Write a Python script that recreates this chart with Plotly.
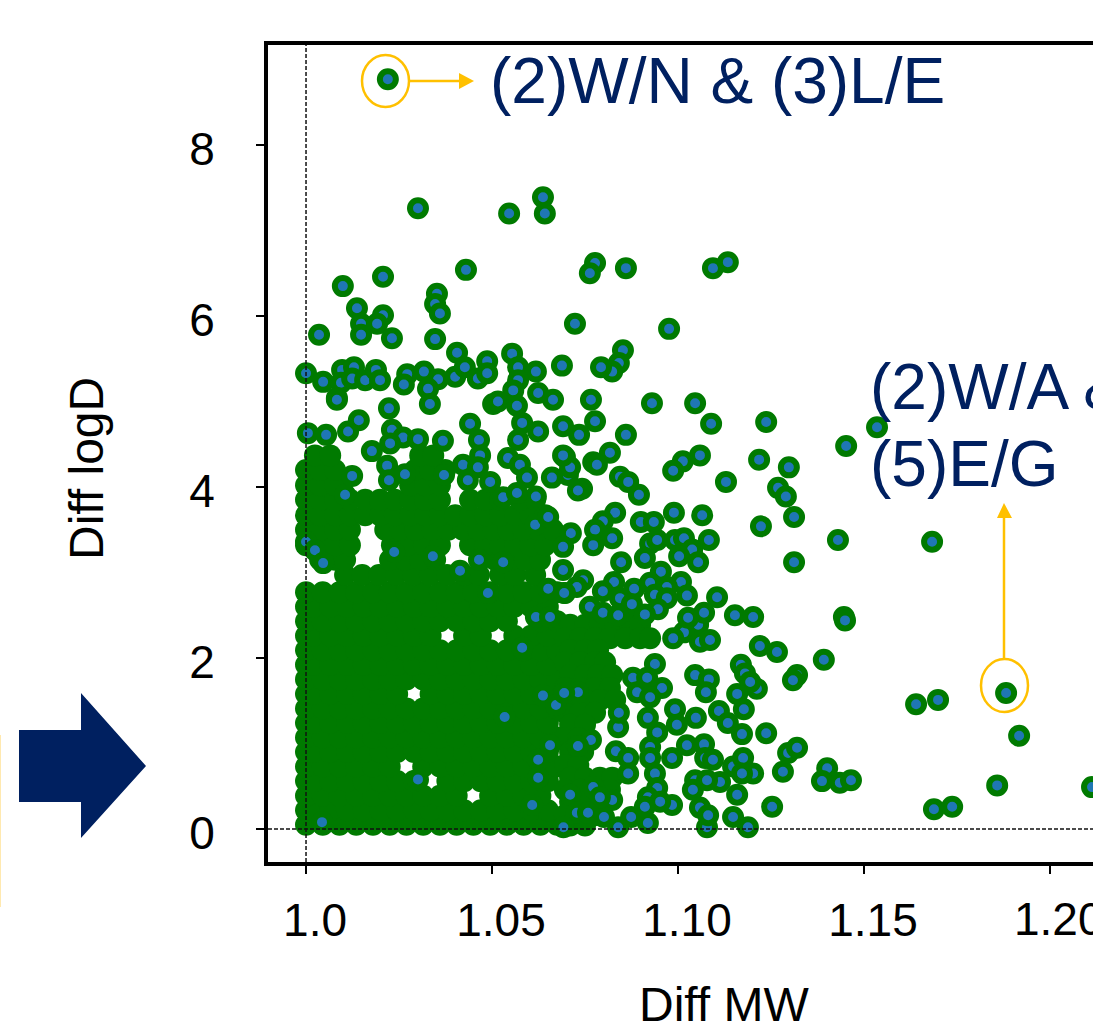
import plotly.graph_objects as go

# ---------- data ----------
tick_x = [1.0, 1.05, 1.10, 1.15, 1.20]
tick_x_text = ["1.0", "1.05", "1.10", "1.15", "1.20"]
tick_y = [0, 2, 4, 6, 8]

# Overplotted core of the cloud, where individual centres are hidden (y level, x values)
core_levels = [
 (0.05,[1.000,1.0045,1.009,1.0135,1.018,1.0225,1.027,1.0315,1.036,1.0405,1.045,1.0495,1.054,1.0585,1.063,1.0675]),
 (0.22,[1.000,1.002,1.0065,1.011,1.0155,1.020,1.0245,1.029,1.0335,1.038,1.0425,1.047,1.0515,1.056,1.0605,1.065]),
 (0.39,[1.000,1.0045,1.009,1.0135,1.018,1.0225,1.027,1.0315,1.036,1.0405,1.0495,1.054,1.0585,1.063]),
 (0.56,[1.000,1.002,1.0065,1.011,1.0155,1.020,1.0245,1.029,1.038,1.0425,1.047,1.0515,1.056,1.0605,1.065]),
 (0.73,[1.000,1.0045,1.009,1.0135,1.018,1.0225,1.0315,1.036,1.0405,1.045,1.0495,1.054,1.0585,1.063,1.0675]),
 (0.90,[1.000,1.002,1.0065,1.011,1.0155,1.020,1.0245,1.029,1.0335,1.038,1.0425,1.047,1.0515,1.056,1.0605,1.065]),
 (1.07,[1.000,1.0045,1.009,1.0135,1.018,1.0225,1.027,1.0315,1.036,1.0405,1.045,1.0495,1.054,1.0585,1.063,1.0675]),
 (1.24,[1.000,1.002,1.0065,1.011,1.0155,1.020,1.0245,1.029,1.0335,1.038,1.0425,1.047,1.0515,1.056,1.0605,1.065]),
 (1.41,[1.000,1.0045,1.009,1.0135,1.018,1.0225,1.027,1.0315,1.036,1.0405,1.045,1.0495,1.054,1.0585,1.063,1.0675]),
 (1.58,[1.000,1.002,1.0065,1.011,1.0155,1.020,1.0245,1.0335,1.038,1.0425,1.047,1.0515,1.056,1.0605,1.065]),
 (1.75,[1.000,1.0045,1.009,1.0135,1.018,1.0225,1.027,1.0315,1.036,1.0405,1.045,1.0495,1.054,1.0585,1.063,1.0675]),
 (1.92,[1.000,1.002,1.0065,1.011,1.0155,1.020,1.0245,1.029,1.0335,1.038,1.0425,1.047,1.0515,1.056,1.0605,1.065]),
 (2.09,[1.000,1.0045,1.009,1.0135,1.018,1.0225,1.027,1.0315,1.036,1.0405,1.045,1.0495,1.054,1.0585,1.063,1.0675]),
 (2.26,[1.000,1.002,1.0065,1.011,1.0155,1.020,1.0245,1.029,1.0335,1.0425,1.047,1.056,1.0605,1.065]),
 (2.43,[1.000,1.0045,1.009,1.0135,1.018,1.0225,1.027,1.0315,1.036,1.0405,1.045,1.0495,1.054,1.063,1.0675]),
 (2.60,[1.000,1.002,1.0065,1.011,1.0155,1.020,1.0245,1.029,1.0335,1.038,1.0425,1.047,1.0515,1.056,1.0605,1.065]),
 (2.77,[1.000,1.0045,1.009,1.0135,1.018,1.0225,1.027,1.0315,1.036,1.0405,1.045,1.0495,1.054,1.0585,1.063,1.0675]),
 (2.97,[1.0105,1.0151,1.0196,1.0242,1.0288,1.0333,1.0379,1.0425,1.0465,1.0522,1.0562,1.0616]),
 (3.15,[1.0038,1.0078,1.0105,1.0226,1.0266,1.0307,1.0347,1.0468,1.0508,1.0549,1.0589,1.0629]),
 (3.32,[1.000,1.0038,1.0078,1.0118,1.0231,1.0274,1.0317,1.036,1.0441,1.0482,1.0522,1.0562,1.0603,1.0643]),
 (3.50,[1.000,1.0038,1.0078,1.0118,1.0213,1.0253,1.0293,1.0339,1.0382,1.0422,1.0463,1.0503,1.0543,1.0584,1.0624,1.0664]),
 (3.67,[1.000,1.0038,1.0078,1.0118,1.0159,1.0199,1.0239,1.028,1.032,1.036,1.0401,1.0441,1.0482,1.0522,1.0562,1.0603,1.0643]),
 (3.85,[1.000,1.0038,1.0078,1.0118,1.0159,1.0199,1.0239,1.028,1.032,1.036,1.0441,1.0482,1.0522,1.0576,1.0616]),
 (4.02,[1.000,1.0038,1.0078,1.028,1.032,1.036]),
 (4.20,[1.000,1.0038,1.0078,1.0293,1.0334,1.0374]),
 (4.37,[1.0024,1.0065,1.0307,1.0342]),
]
edge_levels = [
 (2.39,[1.0710,1.0750,1.0790,1.0831,1.0872,1.0898]),
 (2.23,[1.0696,1.0737,1.0777,1.0817,1.0858,1.0898,1.0925]),
 (2.09,[1.0710,1.0750,1.0785]),
 (1.95,[1.0696,1.0737,1.0777,1.0804]),
 (1.80,[1.0710,1.0750,1.0785,1.0823]),
 (1.65,[1.0696,1.0737,1.0777,1.0817]),
 (1.51,[1.0710,1.0750,1.0790,1.0831]),
 (1.36,[1.0696,1.0737,1.0777]),
 (1.22,[1.0710,1.0750]),
 (1.06,[1.0696,1.0732]),
 (0.90,[1.0710,1.0745]),
 (0.75,[1.0696,1.0732]),
 (0.60,[1.0710,1.0750,1.0790,1.0823]),
 (0.46,[1.0696,1.0737,1.0777,1.0817]),
 (0.32,[1.0710,1.0750,1.0790]),
 (0.16,[1.0696,1.0737,1.0777]),
 (0.04,[1.0710,1.0750]),
]

# Individually visible points (x, y)
outlier = [(1.0220,8.77)]
upper_points = [
 (1.0301,7.26),(1.0546,7.20),(1.0637,7.39),(1.0642,7.20),(1.0430,6.54),(1.0207,6.46),(1.0099,6.35),
 (1.0137,6.09),(1.0352,6.26),(1.0347,6.14),(1.0360,6.03),(1.0207,6.01),(1.0148,5.91),(1.0191,5.91),
 (1.0148,5.78),(1.0035,5.78),(1.0231,5.74),(1.0347,5.73),(1.0723,5.91),(1.0000,5.33),(1.0046,5.23),
 (1.0097,5.37),(1.0129,5.40),(1.0094,5.22),(1.0124,5.27),(1.0159,5.25),(1.0188,5.37),(1.0199,5.25),
 (1.0272,5.32),(1.0263,5.20),(1.0317,5.35),(1.0355,5.26),(1.0328,5.15),(1.0401,5.29),(1.0406,5.57),
 (1.0427,5.40),(1.0487,5.47),(1.0462,5.27),(1.0487,5.33),(1.0554,5.56),(1.0570,5.40),(1.0618,5.35),
 (1.0688,5.42),(1.0570,5.25),(1.0557,5.13),(1.0624,5.10),(1.0664,5.02),(1.0083,5.04),(1.0223,4.92),
 (1.0083,5.02),(1.0333,4.97),(1.0503,4.97),(1.0516,5.00),(1.0567,4.95),
 (1.0777,6.62),(1.0763,6.50),(1.0860,6.56),(1.1094,6.56),(1.1134,6.63),(1.0976,5.85),(1.0852,5.60),
 (1.0841,5.45),(1.0823,5.35),(1.0793,5.40),(1.0766,5.02),(1.0930,4.98),(1.1046,4.98),
 (1.0005,4.63),(1.0054,4.61),(1.0113,4.65),(1.0142,4.78),(1.0177,4.42),(1.0231,4.67),(1.0261,4.58),
 (1.0301,4.56),(1.0226,4.51),(1.0368,4.54),(1.0441,4.74),(1.0465,4.55),(1.0468,4.37),(1.0218,4.25),
 (1.0223,4.08),(1.0266,4.15),(1.0124,4.13),(1.0422,4.26),(1.0462,4.23),(1.0435,4.08),(1.0495,4.06),
 (1.0371,4.14),(1.0581,4.75),(1.0624,4.65),(1.0570,4.55),(1.0543,4.34),(1.0575,4.26),(1.0594,4.11),
 (1.0530,3.88),(1.0618,3.89),(1.0661,4.11),(1.0691,4.37),(1.0731,3.96),(1.0567,3.93),
]
mid_points = [
 (1.1089,4.74),(1.1237,4.76),(1.1452,4.48),(1.0777,4.77),(1.0691,4.71),(1.0734,4.61),(1.0860,4.61),
 (1.0817,4.40),(1.0772,4.29),(1.0782,4.26),(1.1059,4.37),(1.1013,4.30),(1.0987,4.19),(1.1218,4.32),
 (1.1298,4.23),(1.1129,4.06),(1.1269,3.99),(1.1290,3.89),(1.0844,4.12),(1.0866,4.06),(1.0895,3.91),
 (1.0742,3.98),(1.0704,4.14),(1.0696,4.35),(1.0710,4.23),(1.1312,3.65),(1.1223,3.54),(1.1430,3.38),
 (1.1312,3.12),(1.0989,3.70),(1.1065,3.67),(1.0831,3.70),(1.0798,3.60),(1.0777,3.50),(1.0900,3.59),
 (1.0935,3.59),(1.0712,3.46),(1.0823,3.40),(1.0772,3.32),(1.0691,3.30),(1.0925,3.34),(1.0944,3.38),
 (1.0992,3.38),(1.1016,3.40),(1.1083,3.38),(1.1038,3.27),(1.1003,3.19),(1.1054,3.12),(1.0911,3.17),
 (1.0847,3.12),(1.0691,3.03),(1.0745,2.91),(1.0728,2.83),(1.0954,3.01),(1.0828,2.89),(1.0925,2.88),
 (1.1008,2.89),(1.0970,2.83),(1.0798,2.78),(1.0882,2.81),(1.0938,2.74),(1.1024,2.73),(1.0844,2.70),
 (1.1105,2.71),(1.0696,2.76),(1.0970,2.70),(1.0763,2.60),(1.0876,2.63),(1.0946,2.57),(1.0911,2.51),
 (1.1070,2.53),(1.1027,2.47),(1.1153,2.50),(1.1202,2.48),(1.1446,2.48),(1.1449,2.44),(1.0798,2.53),
 (1.0839,2.50),(1.0616,3.56),(1.0651,3.65),(1.0341,3.19),(1.0237,3.24),(1.0530,3.12),(1.0465,3.15),
 (1.0414,3.02),(1.0651,2.81),(1.0694,2.76),(1.0489,2.76),(1.0000,3.36),(1.0024,3.26),(1.0046,3.11),
 (1.0105,3.91),
]
lower_points = [
 (1.1054,2.39),(1.1016,2.30),(1.0987,2.23),(1.1059,2.19),(1.1086,2.21),(1.1220,2.14),(1.1266,2.07),
 (1.1392,1.98),(1.1320,1.80),(1.1309,1.74),(1.1169,1.92),(1.1180,1.82),(1.1046,1.80),(1.1083,1.75),
 (1.1075,1.60),(1.1212,1.64),(1.1194,1.72),(1.1159,1.58),(1.1177,1.40),(1.1110,1.38),(1.1134,1.24),
 (1.1172,1.11),(1.1237,1.12),(1.1048,1.30),(1.0992,1.40),(1.0997,1.22),(1.0938,1.93),(1.0944,1.13),
 (1.0919,1.30),(1.0879,1.77),(1.0890,1.60),(1.0957,1.65),(1.0917,1.77),(1.0925,1.54),(1.0839,1.19),
 (1.0841,1.36),(1.0766,1.04),(1.0728,0.97),(1.0833,0.91),(1.0866,0.83),(1.0866,0.65),(1.0925,0.96),
 (1.0925,0.83),(1.0984,0.83),(1.1024,0.98),(1.1070,0.99),(1.1073,0.83),(1.1094,0.81),(1.0938,0.65),
 (1.1046,0.57),(1.1040,0.46),(1.1113,0.55),(1.1078,0.57),(1.1159,0.40),(1.1148,0.73),(1.1175,0.83),
 (1.1202,0.65),(1.1172,0.65),(1.1282,0.67),(1.1296,0.89),(1.1320,0.95),(1.1401,0.71),(1.1387,0.56),
 (1.1435,0.54),(1.1465,0.57),(1.1253,0.26),(1.1148,0.14),(1.1188,0.02),(1.1078,0.02),(1.1059,0.25),
 (1.1081,0.16),(1.0919,0.07),(1.0839,0.02),(1.0874,0.14),(1.0984,0.28),(1.0944,0.48),(1.0919,0.37),
 (1.0911,0.26),(1.0952,0.32),(1.0823,0.34),(1.0801,0.14),(1.0772,0.49),(1.0790,0.37),(1.0710,0.40),
 (1.0728,0.19),(1.0758,0.19),(1.0692,0.02),
 (1.0618,2.48),(1.0656,2.48),(1.0581,2.12),(1.0637,1.56),(1.0672,1.45),(1.0731,1.60),(1.0694,1.59),
 (1.0534,1.31),(1.0731,0.97),(1.0656,0.98),(1.0624,0.81),(1.0608,0.28),(1.0624,0.60),(1.0301,0.58),
 (1.0043,0.08),
]
far_points = [
 (1.1535,4.70),(1.1683,3.36),(1.1882,1.59),(1.1699,1.51),(1.1640,1.46),(1.1917,1.09),(1.1858,0.51),
 (1.2113,0.49),(1.1688,0.23),(1.1737,0.26),
]

# ---------- page geometry helpers ----------
W, H = 1093, 1026
L, R, T, B = 268, 1093, 45, 862
def fx(p): return (p - L) / (R - L)
def fy(p): return (B - p) / (B - T)

core_x = [x for _, xs in core_levels + edge_levels for x in xs]
core_y = [y for y, xs in core_levels + edge_levels for _ in xs]
visible = lower_points + mid_points + upper_points + far_points + outlier
vis_x = [p[0] for p in visible]
vis_y = [p[1] for p in visible]

GREEN = "#007a00"; BLUE = "#1f77b4"; NAVY = "#002060"; GOLD = "#FFC000"
FONT = "Liberation Sans"

fig = go.Figure()
fig.add_trace(go.Scatter(x=core_x, y=core_y, mode="markers", hoverinfo="skip",
                         marker=dict(size=22, color=GREEN, line=dict(width=0))))
fig.add_trace(go.Scatter(x=vis_x, y=vis_y, mode="markers",
                         marker=dict(size=16, color=BLUE, line=dict(width=6, color=GREEN))))

def poly(pts, color):
    d = "M " + " L ".join(f"{fx(a):.5f},{fy(b):.5f}" for a, b in pts) + " Z"
    return dict(type="path", xref="paper", yref="paper", path=d, fillcolor=color, line=dict(width=0), layer="above")
def seg(a, b, c, d, color=GOLD, w=2.5):
    return dict(type="line", xref="paper", yref="paper", x0=fx(a), y0=fy(b), x1=fx(c), y1=fy(d),
                line=dict(color=color, width=w), layer="above")
def ell(a, b, c, d):
    return dict(type="circle", xref="paper", yref="paper", x0=fx(a), y0=fy(d), x1=fx(c), y1=fy(b),
                line=dict(color=GOLD, width=2.5), fillcolor="rgba(0,0,0,0)", layer="above")

shapes = [
    dict(type="line", xref="x", yref="paper", x0=1.0, x1=1.0, y0=0, y1=1,
         line=dict(color="#111111", width=1.5, dash="4px,2px"), layer="above"),
    dict(type="line", xref="paper", yref="y", x0=0, x1=1, y0=0, y1=0,
         line=dict(color="#111111", width=1.5, dash="4px,2px"), layer="above"),
    poly([(19,730),(81,730),(81,693),(146,766),(81,838),(81,802),(19,802)], NAVY),
    seg(0, 735, 0, 907, "#FFE9B0", 2),
    ell(362, 55, 409, 107),
    seg(409, 81, 460, 81),
    poly([(459,73),(474,81),(459,89)], GOLD),
    ell(981, 659, 1028, 712),
    seg(1004, 659, 1004, 517),
    poly([(997,518),(1004,503),(1012,518)], GOLD),
]

def label(text, px, py, size, color, xanchor="left", angle=0):
    return dict(text=text, x=fx(px), y=fy(py), xref="paper", yref="paper", showarrow=False,
                xanchor=xanchor, yanchor="middle", textangle=angle,
                font=dict(family=FONT, size=size, color=color), borderpad=0, borderwidth=0)

annotations = [
    label("(2)W/N &amp; (3)L/E", 490, 81, 64, NAVY),
    label("(2)W/A &amp;", 870, 387, 64, NAVY),
    label("(5)E/G", 870, 464, 64, NAVY),
    label("Diff MW", 724, 1004, 48, "black", "center"),
    label("Diff logD", 87, 469, 48, "black", "center", -90),
    label("1.20", 1014, 919, 46, "black"),
]

fig.update_layout(
    width=W, height=H, margin=dict(l=L, r=W-R, t=T, b=H-B, pad=0),
    paper_bgcolor="white", plot_bgcolor="white", showlegend=False,
    shapes=shapes, annotations=annotations,
    font=dict(family=FONT, color="black"),
)
fig.update_xaxes(range=[0.98978, 1.21156], tickmode="array", tickvals=tick_x, ticktext=tick_x_text,
                 showgrid=False, zeroline=False, showline=True, linecolor="black", linewidth=4, mirror=True,
                 ticks="outside", ticklen=8, tickwidth=2, tickcolor="black",
                 tickfont=dict(family=FONT, size=46, color="black"), ticklabelstandoff=7, ticklabelshift=9)
fig.update_yaxes(range=[-0.386, 9.170], tickmode="array", tickvals=tick_y,
                 showgrid=False, zeroline=False, showline=True, linecolor="black", linewidth=4, mirror=False,
                 ticks="outside", ticklen=8, tickwidth=2, tickcolor="black",
                 tickfont=dict(family=FONT, size=46, color="black"), ticklabelstandoff=32, ticklabelshift=4)

fig.write_html("out.html", config=dict(displayModeBar=False),
               post_script="document.body.style.margin='0';document.documentElement.style.overflow='hidden';")
